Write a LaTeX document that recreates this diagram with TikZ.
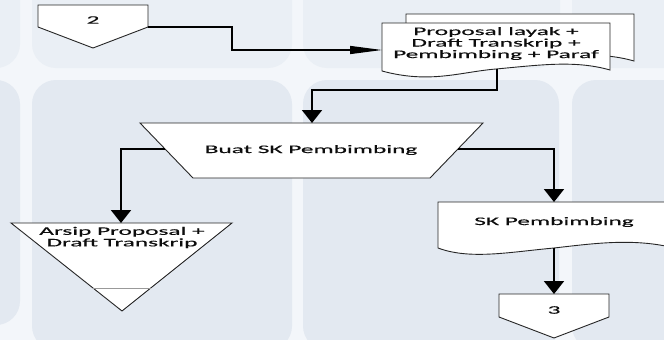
\documentclass[tikz,border=0pt]{standalone}
\usepackage{fontspec}
\setmainfont{Carlito}[UprightFeatures={FakeBold=0.25}]
\usepackage{graphicx}
\usetikzlibrary{arrows.meta}
\newcommand{\sx}[1]{\scalebox{2.2}[1]{#1}}
\definecolor{bandcol}{HTML}{F3F6FA}
\definecolor{paneltop}{HTML}{EAEFF5}
\definecolor{panelbot}{HTML}{E3E9F1}
\begin{document}
\begin{tikzpicture}[x=1pt,y=-1pt,
  shapebox/.style={draw=black!85, line width=0.9pt, fill=white, line join=miter},
  txt/.style={font=\fontsize{11.5}{11.5}\selectfont, text=black!95, inner sep=0pt, align=center},
  flow/.style={draw=black, line width=2pt, -{Triangle[length=13pt,width=20pt]}},
  flowthin/.style={draw=black, line width=1.3pt, -{Triangle[length=32pt,width=8pt]}},
  ptop/.style={fill=paneltop, rounded corners=24pt},
  pbot/.style={fill=panelbot, rounded corners=24pt}]
\useasboundingbox (0,0) rectangle (664,340);
% background
\fill[bandcol] (0,0) rectangle (664,340);
\fill[ptop] (-60,-40) rectangle (20,68);
\fill[ptop] (32,-40) rectangle (292,68);
\fill[ptop] (303,-40) rectangle (560,68);
\fill[ptop] (572,-40) rectangle (720,68);
\fill[pbot] (-60,80) rectangle (20,325);
\fill[pbot] (32,80) rectangle (292,350);
\fill[pbot] (303,80) rectangle (559,350);
\fill[pbot] (572,80) rectangle (720,350);

% off-page connector 2
\draw[shapebox] (38,5) -- (148,5) -- (148,27) -- (93,48) -- (38,27) -- cycle;
\node[txt] (c2) at (93,20) {\sx{2}};
\coordinate (c2out) at (148,27);

% multi-document
\begin{scope}[shift={(24,-9)}]
\draw[shapebox] (382,71) -- (382,23) -- (610,23) -- (610,70)
  .. controls (575,60) and (540,65) .. (496,69)
  .. controls (460,72) and (430,84) .. (382,71) -- cycle;
\end{scope}
\draw[shapebox] (382,71) -- (382,23) -- (610,23) -- (610,70)
  .. controls (575,60) and (540,65) .. (496,69)
  .. controls (460,72) and (430,84) .. (382,71) -- cycle;
\node[txt] (doc) at (496,43.5) {\sx{Proposal layak +}\\\sx{Draft Transkrip +}\\\sx{Pembimbing + Paraf}};
\coordinate (docin) at (382,50);
\coordinate (docout) at (497,69);
\coordinate (bend1) at (232,50);

% manual operation
\draw[shapebox] (140,123) -- (483,123) -- (430,178) -- (193,178) -- cycle;
\node[txt] (trap) at (311,150) {\sx{Buat SK Pembimbing}};
\coordinate (trapin) at (312,123);
\coordinate (trapL) at (165,149);
\coordinate (trapR) at (458,149);

% archive triangle
\draw[shapebox] (11,223) -- (232,223) -- (122,311) -- cycle;
\draw[black!40, line width=1pt] (93,288) -- (151,288);
\node[txt] (arsip) at (122,237.5) {\sx{Arsip Proposal +}\\\sx{Draft Transkrip}};
\coordinate (triin) at (121,223);

% SK document
\draw[shapebox] (670,247) -- (670,202) -- (438,202) -- (438,248)
  .. controls (470,260) and (510,252) .. (554,248)
  .. controls (590,244) and (630,238) .. (670,247) -- cycle;
\node[txt] (sk) at (554,222) {\sx{SK Pembimbing}};
\coordinate (skin) at (554,202);
\coordinate (skout) at (554,248);

% off-page connector 3
\draw[shapebox] (499,294) -- (609,294) -- (609,317) -- (554,338) -- (499,317) -- cycle;
\node[txt] (c3) at (554,310) {\sx{3}};
\coordinate (c3in) at (554,294);

% connectors
\draw[flowthin] (c2out) -| (bend1) -- (docin);
\draw[flow] (docout) -- ++(0,21) -| (trapin);
\draw[flow] (trapL) -| (triin);
\draw[flow] (trapR) -| (skin);
\draw[flow] (skout) -- (c3in);
\end{tikzpicture}
\end{document}
